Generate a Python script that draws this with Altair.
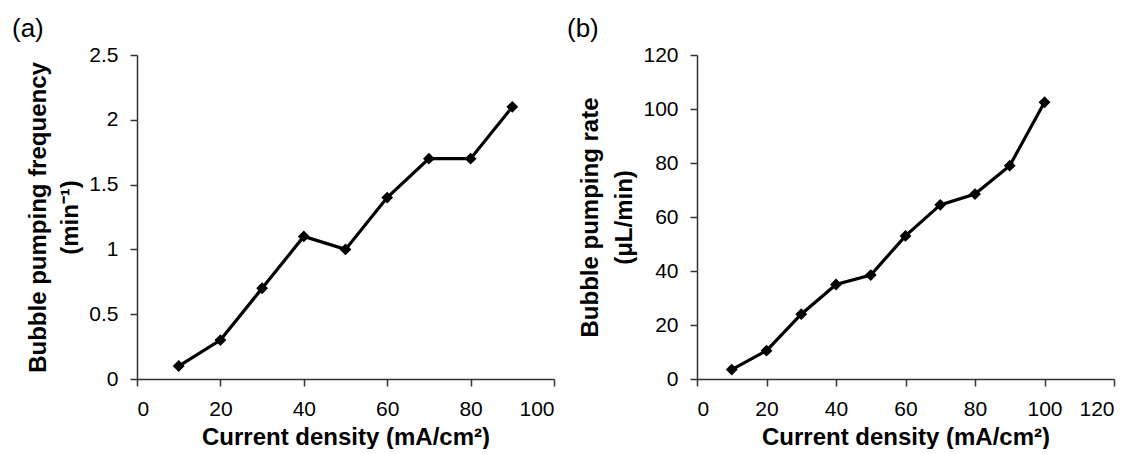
import altair as alt
import pandas as pd

# Panel (a)
x_a = [10, 20, 30, 40, 50, 60, 70, 80, 90]
freq = [0.1, 0.3, 0.7, 1.1, 1.0, 1.4, 1.7, 1.7, 2.1]
# Panel (b)
x_b = [10, 20, 30, 40, 50, 60, 70, 80, 90, 100]
rate = [3.5, 10.5, 24, 35, 38.5, 53, 64.5, 68.5, 79, 102.5]

x_ticks_a = [0, 20, 40, 60, 80, 100]
x_ticks_b = [0, 20, 40, 60, 80, 100, 120]
y_ticks_a = [0, 0.5, 1, 1.5, 2, 2.5]
y_ticks_b = [0, 20, 40, 60, 80, 100, 120]

FONT = "Liberation Sans"
xtitle = "Current density (mA/cm²)"

df_a = pd.DataFrame({"x": x_a, "y": freq})
df_b = pd.DataFrame({"x": x_b, "y": rate})


def panel(df, xmax, xticks, ymax, yticks, yfmt, ytitle, label, dx, lh):
    base = alt.Chart(df)
    xenc = alt.X("x:Q", scale=alt.Scale(domain=[0, xmax], nice=False),
                 axis=alt.Axis(values=xticks, format="d", title=xtitle))
    yenc = alt.Y("y:Q", scale=alt.Scale(domain=[0, ymax], nice=False),
                 axis=alt.Axis(values=yticks, format=yfmt, title=ytitle,
                               titleLineHeight=lh))
    line = base.mark_line(color="black", strokeWidth=3.2).encode(x=xenc, y=yenc)
    pts = base.mark_point(shape="diamond", filled=True, color="black",
                          size=140, opacity=1).encode(x=xenc, y=yenc)
    return (line + pts).properties(
        width=417, height=324,
        title=alt.TitleParams(label, anchor="start", frame="group", dx=dx,
                              fontSize=26, font=FONT, fontWeight="normal",
                              color="black", offset=2),
    )


pa = panel(df_a, 100, x_ticks_a, 2.5, y_ticks_a, "~g",
           ["Bubble pumping frequency", "(min⁻¹)"], "(a)", -125, 32)
pb = panel(df_b, 120, x_ticks_b, 120, y_ticks_b, "d",
           ["Bubble pumping rate", "(μL/min)"], "(b)", -130, 34)

chart = alt.hconcat(pa, pb, spacing=143, bounds="flush").properties(
    padding={"left": 4, "top": 8, "right": 4, "bottom": 0}
).configure_view(stroke=None).configure_axis(
    grid=False,
    labelFont=FONT, labelFontSize=21, labelColor="black", labelPadding=12,
    titleFont=FONT, titleFontSize=24, titleFontWeight="bold", titleColor="black",
    titlePadding=6,
    domainColor="#333", domainWidth=1.5, tickColor="#333", tickWidth=1.5,
    tickSize=7,
)

chart.save("out.html", embed_options={"renderer": "svg", "actions": False})
